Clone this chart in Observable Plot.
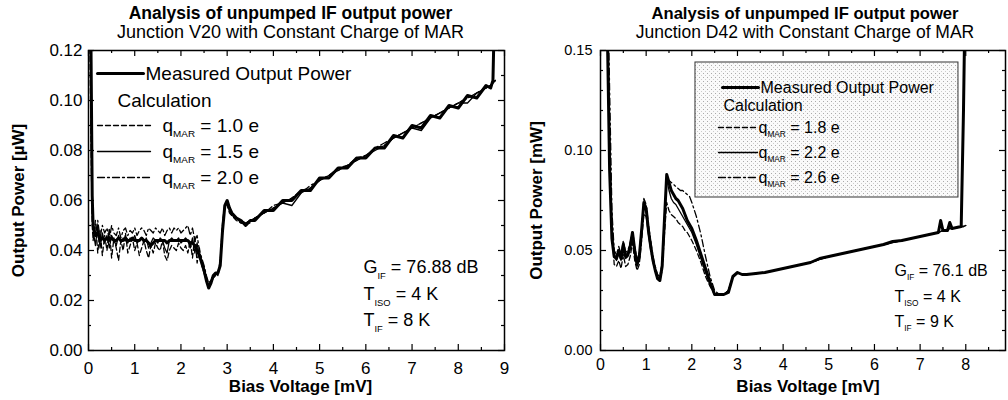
<!DOCTYPE html>
<html><head><meta charset="utf-8">
<script src="https://cdn.jsdelivr.net/npm/d3@7"></script>
<script src="https://cdn.jsdelivr.net/npm/@observablehq/plot@0.6"></script>
<style>
body{margin:0;background:#fff;}
#wrap{display:flex;width:1008px;height:400px;overflow:hidden;background:#fff;}
#wrap svg{display:block;flex:none;}
</style></head><body>
<svg width="0" height="0" style="position:absolute"><defs>
<pattern id="stipple" width="4" height="4" patternUnits="userSpaceOnUse">
<rect width="4" height="4" fill="#fafafa"/><rect x="1" y="1" width="1" height="1" fill="#aaaaaa"/><rect x="3" y="3" width="1" height="1" fill="#cccccc"/>
</pattern></defs></svg>
<div id="wrap"></div>
<script>
// ---------------- LEFT PANEL DATA (Junction V20) ----------------
const leftTitle = "Analysis of unpumped IF output power";
const leftSubtitle = "Junction V20 with Constant Charge of MAR";
const leftYLabel = "Output Power [µW]";
const leftXLabel = "Bias Voltage [mV]";
const leftSeriesNames = ["Measured Output Power", "q_{MAR} = 1.0 e", "q_{MAR} = 1.5 e", "q_{MAR} = 2.0 e"];
const leftNotes = ["G_{IF} = 76.88 dB", "T_{ISO} = 4 K", "T_{IF} = 8 K"];
const leftXTicks = [0, 1, 2, 3, 4, 5, 6, 7, 8, 9];
const leftXMinor = [0.5, 1.5, 2.5, 3.5, 4.5, 5.5, 6.5, 7.5, 8.5];
const leftYTicks = [0, 0.02, 0.04, 0.06, 0.08, 0.10, 0.12];
const leftYMinor = [0.01, 0.03, 0.05, 0.07, 0.09, 0.11];

const leftBias = [
 0.02,0.05,0.08,0.10,0.15,0.20,0.25,0.30,0.35,0.40,
 0.45,0.50,0.55,0.60,0.65,0.70,0.75,0.80,0.85,0.90,
 0.95,1.00,1.05,1.10,1.15,1.20,1.25,1.30,1.35,1.40,
 1.45,1.50,1.55,1.60,1.65,1.70,1.75,1.80,1.85,1.90,
 1.95,2.00,2.05,2.10,2.15,2.20,2.25,2.30,2.35,2.40,
 2.45,2.50,2.55,2.60,2.65,2.70,2.75,2.80,2.85,2.90,
 2.95,3.00,3.05,3.10,3.20,3.30,3.40,3.50,3.60,3.80,
 4.00,4.20,4.40,4.60,4.80,5.00,5.20,5.40,5.60,5.80,
 6.00,6.20,6.40,6.60,6.80,7.00,7.20,7.40,7.60,7.80,
 8.00,8.20,8.40,8.60,8.70,8.75,8.80];
const leftMeasured = [
 0.140,0.130,0.062,0.050,0.046,0.047,0.044,0.045,0.044,0.045,
 0.044,0.045,0.044,0.044,0.045,0.044,0.044,0.045,0.044,0.044,
 0.045,0.044,0.044,0.044,0.045,0.044,0.044,0.043,0.042,0.043,
 0.044,0.044,0.044,0.044,0.044,0.043,0.044,0.044,0.044,0.044,
 0.044,0.044,0.044,0.044,0.044,0.043,0.043,0.042,0.040,0.038,
 0.035,0.032,0.028,0.025,0.027,0.030,0.031,0.031,0.034,0.048,
 0.058,0.060,0.057,0.055,0.053,0.052,0.050,0.052,0.052,0.056,
 0.056,0.060,0.060,0.064,0.064,0.069,0.069,0.073,0.073,0.077,
 0.077,0.081,0.081,0.086,0.085,0.090,0.089,0.094,0.093,0.098,
 0.097,0.102,0.101,0.106,0.105,0.108,0.150];
const leftQ10 = [
 0.140,0.090,0.050,0.044,0.052,0.039,0.048,0.038,0.046,0.040,
 0.049,0.037,0.045,0.041,0.036,0.044,0.040,0.047,0.039,0.042,
 0.045,0.040,0.043,0.038,0.041,0.044,0.040,0.037,0.042,0.039,
 0.043,0.041,0.040,0.044,0.038,0.036,0.040,0.042,0.041,0.040,
 0.043,0.041,0.040,0.042,0.039,0.044,0.037,0.046,0.035,0.041,
 0.034,0.031,0.028,0.026,0.027,0.029,0.030,0.031,0.036,0.051,
 0.059,0.058,0.055,0.054,0.052,0.051,0.051,0.052,0.053,0.055,
 0.058,0.059,0.061,0.064,0.065,0.068,0.070,0.073,0.074,0.077,
 0.078,0.081,0.082,0.085,0.087,0.089,0.091,0.093,0.095,0.097,
 0.099,0.101,0.103,0.105,0.106,0.107,0.108];
const leftQ15 = [
 0.140,0.110,0.055,0.048,0.042,0.050,0.041,0.047,0.043,0.046,
 0.041,0.046,0.044,0.042,0.046,0.043,0.045,0.044,0.043,0.045,
 0.044,0.046,0.043,0.044,0.045,0.043,0.045,0.041,0.043,0.045,
 0.044,0.043,0.045,0.044,0.041,0.039,0.044,0.045,0.044,0.044,
 0.045,0.043,0.044,0.045,0.044,0.041,0.045,0.039,0.043,0.037,
 0.036,0.033,0.029,0.026,0.028,0.030,0.031,0.030,0.035,0.050,
 0.058,0.059,0.056,0.054,0.053,0.051,0.051,0.052,0.053,0.055,
 0.057,0.059,0.058,0.063,0.065,0.068,0.070,0.072,0.074,0.076,
 0.078,0.080,0.082,0.085,0.087,0.089,0.088,0.093,0.095,0.097,
 0.099,0.099,0.103,0.105,0.106,0.107,0.108];
const leftQ20 = [
 0.140,0.120,0.058,0.051,0.046,0.052,0.045,0.050,0.047,0.049,
 0.044,0.050,0.047,0.046,0.049,0.045,0.048,0.049,0.046,0.048,
 0.047,0.049,0.046,0.048,0.049,0.048,0.046,0.049,0.048,0.047,
 0.049,0.048,0.047,0.049,0.046,0.048,0.049,0.047,0.049,0.048,
 0.049,0.047,0.048,0.049,0.050,0.046,0.049,0.044,0.046,0.040,
 0.037,0.034,0.030,0.027,0.028,0.030,0.031,0.031,0.035,0.049,
 0.058,0.060,0.056,0.055,0.053,0.052,0.051,0.051,0.053,0.055,
 0.057,0.059,0.061,0.063,0.066,0.068,0.070,0.072,0.074,0.076,
 0.078,0.081,0.083,0.085,0.087,0.089,0.091,0.093,0.095,0.097,
 0.099,0.101,0.103,0.105,0.106,0.107,0.108];

// ---------------- RIGHT PANEL DATA (Junction D42) ----------------
const rightTitle = "Analysis of unpumped IF output power";
const rightSubtitle = "Junction D42 with Constant Charge of MAR";
const rightYLabel = "Output Power [mW]";
const rightXLabel = "Bias Voltage [mV]";
const rightSeriesNames = ["Measured Output Power", "q_{MAR} = 1.8 e", "q_{MAR} = 2.2 e", "q_{MAR} = 2.6 e"];
const rightNotes = ["G_{IF} = 76.1 dB", "T_{ISO} = 4 K", "T_{IF} = 9 K"];
const rightXTicks = [0, 1, 2, 3, 4, 5, 6, 7, 8];
const rightXMinor = [0.5, 1.5, 2.5, 3.5, 4.5, 5.5, 6.5, 7.5, 8.5];
const rightYTicks = [0, 0.05, 0.10, 0.15];
const rightYMinor = [0.01,0.02,0.03,0.04,0.06,0.07,0.08,0.09,0.11,0.12,0.13,0.14];

const rightBias = [
 0.05,0.10,0.15,0.20,0.25,0.30,0.35,0.40,0.45,0.50,
 0.55,0.60,0.65,0.70,0.75,0.80,0.85,0.90,0.95,1.00,
 1.05,1.10,1.15,1.20,1.25,1.30,1.35,1.40,1.45,1.50,
 1.55,1.60,1.65,1.70,1.75,1.80,1.85,1.90,1.95,2.00,
 2.10,2.20,2.30,2.40,2.50,2.60,2.70,2.80,2.90,3.00,
 3.10,3.20,3.40,3.60,3.80,4.00,4.20,4.40,4.60,4.80,
 5.00,5.20,5.40,5.60,5.80,6.00,6.20,6.40,6.60,6.80,
 7.00,7.20,7.40,7.45,7.50,7.60,7.65,7.70,7.80,7.90,
 7.95,8.00];
const rightMeasured = [
 0.200,0.200,0.160,0.090,0.056,0.047,0.046,0.050,0.046,0.053,
 0.047,0.048,0.052,0.059,0.050,0.043,0.047,0.060,0.074,0.071,
 0.060,0.052,0.045,0.040,0.036,0.035,0.042,0.065,0.088,0.084,
 0.080,0.078,0.076,0.075,0.073,0.071,0.068,0.065,0.063,0.061,
 0.055,0.048,0.041,0.034,0.028,0.028,0.028,0.029,0.037,0.039,
 0.038,0.038,0.0385,0.039,0.040,0.041,0.042,0.043,0.044,0.046,
 0.047,0.048,0.049,0.050,0.051,0.052,0.053,0.0545,0.055,0.056,
 0.057,0.058,0.059,0.065,0.060,0.060,0.064,0.061,0.0615,0.062,
 0.120,0.200];
const rightQ18 = [
 0.200,0.200,0.180,0.110,0.060,0.043,0.042,0.045,0.041,0.048,
 0.042,0.043,0.047,0.054,0.045,0.040,0.043,0.055,0.068,0.067,
 0.058,0.050,0.044,0.040,0.036,0.035,0.040,0.058,0.074,0.070,
 0.068,0.067,0.066,0.064,0.063,0.062,0.060,0.059,0.057,0.055,
 0.050,0.044,0.037,0.032,0.028,0.028,0.028,0.030,0.037,0.039,
 0.038,0.038,0.0385,0.039,0.040,0.041,0.042,0.043,0.044,0.0455,
 0.047,0.048,0.049,0.050,0.051,0.052,0.053,0.054,0.055,0.056,
 0.057,0.058,0.059,0.0595,0.060,0.0605,0.061,0.061,0.0615,0.062,
 0.062,0.0625];
const rightQ22 = [
 0.200,0.200,0.170,0.100,0.060,0.048,0.045,0.049,0.045,0.052,
 0.046,0.047,0.051,0.058,0.049,0.042,0.046,0.059,0.073,0.070,
 0.061,0.053,0.046,0.041,0.037,0.036,0.043,0.064,0.086,0.080,
 0.076,0.074,0.073,0.071,0.069,0.067,0.065,0.063,0.061,0.059,
 0.053,0.046,0.039,0.033,0.028,0.028,0.028,0.030,0.037,0.039,
 0.038,0.038,0.0385,0.039,0.040,0.041,0.042,0.043,0.044,0.0455,
 0.047,0.048,0.049,0.050,0.051,0.052,0.053,0.054,0.055,0.056,
 0.057,0.058,0.059,0.0595,0.060,0.0605,0.061,0.061,0.0615,0.062,
 0.062,0.0625];
const rightQ26 = [
 0.200,0.200,0.190,0.130,0.070,0.050,0.048,0.052,0.048,0.055,
 0.049,0.050,0.054,0.060,0.052,0.045,0.049,0.061,0.076,0.073,
 0.063,0.055,0.047,0.042,0.038,0.037,0.044,0.066,0.086,0.085,
 0.084,0.083,0.082,0.081,0.080,0.080,0.079,0.078,0.077,0.074,
 0.067,0.058,0.047,0.037,0.030,0.028,0.028,0.030,0.037,0.039,
 0.038,0.038,0.0385,0.039,0.040,0.041,0.042,0.043,0.044,0.0455,
 0.047,0.048,0.049,0.050,0.051,0.052,0.053,0.054,0.055,0.056,
 0.057,0.058,0.059,0.0595,0.060,0.0605,0.061,0.061,0.0615,0.062,
 0.062,0.0625];

// ---------------- LAYOUT / STYLE ----------------
const FONT = "'Liberation Sans', Arial, Helvetica, sans-serif";
const lineStyles = {
  measured: {stroke: "black", strokeWidth: 3},
  dashed: {stroke: "black", strokeWidth: 1.3, strokeDasharray: "5,3"},
  solid: {stroke: "black", strokeWidth: 1.3},
  dashdot: {stroke: "black", strokeWidth: 1.3, strokeDasharray: "7,3,2,3"}
};
const calcStyleOrder = ["dashed", "solid", "dashdot"];
const segmentShape = {draw(context, l) { context.moveTo(0, 0); context.lineTo(0, -l); }};
const PLOT_H = 300;

const leftLayout = {
  width: 506, marginLeft: 88, marginRight: 2, xDomain: [0, 9], yDomain: [0, 0.12],
  titleDx: -6, titleSize: 17.5, subtitleSize: 18,
  xTickFont: 17, yTickFont: 17, xPad: 11, yPad: 6,
  yLabelDx: -70, xLabelDx: 4, labelSize: 17,
  legendFont: 19, noteFont: 18,
  legend: [
    {dx: 57, dy: 23, style: "measured", lineDx: 9, lineLen: 46},
    {dx: 29, dy: 50},
    {dx: 74, dy: 75, style: "dashed", lineDx: 9, lineLen: 53},
    {dx: 74, dy: 101, style: "solid", lineDx: 9, lineLen: 53},
    {dx: 74, dy: 127, style: "dashdot", lineDx: 9, lineLen: 53}
  ],
  notes: {dx: 275, dy: [217, 244, 270]},
  box: null
};
const rightLayout = {
  width: 502, marginLeft: 94, marginRight: 3, xDomain: [0, 8.87], yDomain: [0, 0.15],
  titleDx: 2, titleSize: 16.6, subtitleSize: 17.5,
  xTickFont: 16, yTickFont: 14.5, xPad: 8, yPad: 8,
  yLabelDx: -64, xLabelDx: 5, labelSize: 17,
  legendFont: 16, noteFont: 16,
  legend: [
    {dx: 160, dy: 37, style: "measured", lineDx: 122, lineLen: 36},
    {dx: 123, dy: 55},
    {dx: 158, dy: 77, style: "dashed", lineDx: 118, lineLen: 39},
    {dx: 158, dy: 102, style: "solid", lineDx: 118, lineLen: 39},
    {dx: 158, dy: 127, style: "dashdot", lineDx: 118, lineLen: 39}
  ],
  notes: {dx: 294, dy: [220, 246, 271]},
  box: {x1: 2.08, x2: 7.84, y1: 0.0765, y2: 0.144}
};

function buildPanel(cfg) {
  const L = cfg.layout;
  const W = L.width - L.marginLeft - L.marginRight;
  const rows = cfg.x.map((x, i) => ({x, meas: cfg.measured[i], c0: cfg.calc[0][i], c1: cfg.calc[1][i], c2: cfg.calc[2][i]}));
  const T = d => d;
  const marks = [];
  if (L.box) marks.push(Plot.rect([L.box], {x1: "x1", x2: "x2", y1: "y1", y2: "y2", fill: "url(#stipple)", stroke: "#333", strokeWidth: 1}));
  calcStyleOrder.forEach((s, k) => marks.push(Plot.line(rows, {x: "x", y: "c" + k, clip: true, strokeLinejoin: "round", ...lineStyles[s]})));
  marks.push(Plot.line(rows, {x: "x", y: "meas", clip: true, strokeLinejoin: "round", ...lineStyles.measured}));
  // tick labels (outside)
  marks.push(
    Plot.axisX(cfg.xTicks, {anchor: "bottom", tickSize: 0, tickPadding: L.xPad, fontSize: L.xTickFont, label: null, tickFormat: d3.format("d")}),
    Plot.axisY(cfg.yTicks, {anchor: "left", tickSize: 0, tickPadding: L.yPad, fontSize: L.yTickFont, label: null, tickFormat: d3.format(".2f")})
  );
  // inward ticks on all four sides
  const tk = {stroke: "black", strokeWidth: 1.2};
  marks.push(
    Plot.tickX(cfg.xTicks, {x: T, insetTop: PLOT_H - 6, ...tk}),
    Plot.tickX(cfg.xMinor, {x: T, insetTop: PLOT_H - 3, ...tk}),
    Plot.tickX(cfg.xTicks, {x: T, insetBottom: PLOT_H - 6, ...tk}),
    Plot.tickX(cfg.xMinor, {x: T, insetBottom: PLOT_H - 3, ...tk}),
    Plot.tickY(cfg.yTicks, {y: T, insetRight: W - 6, ...tk}),
    Plot.tickY(cfg.yMinor, {y: T, insetRight: W - 3, ...tk}),
    Plot.tickY(cfg.yTicks, {y: T, insetLeft: W - 6, ...tk}),
    Plot.tickY(cfg.yMinor, {y: T, insetLeft: W - 3, ...tk}),
    Plot.frame({stroke: "black", strokeWidth: 1.5})
  );
  const mid = {lineAnchor: "middle"};
  marks.push(
    Plot.text([cfg.title], {text: T, frameAnchor: "top", ...mid, textAnchor: "middle", dx: L.titleDx, dy: -37, fontWeight: "bold", fontSize: L.titleSize}),
    Plot.text([cfg.subtitle], {text: T, frameAnchor: "top", ...mid, textAnchor: "middle", dx: L.titleDx, dy: -18, fontSize: L.subtitleSize}),
    Plot.text([cfg.yLabel], {text: T, frameAnchor: "left", ...mid, textAnchor: "middle", dx: L.yLabelDx, rotate: -90, fontWeight: "bold", fontSize: L.labelSize}),
    Plot.text([cfg.xLabel], {text: T, frameAnchor: "bottom", ...mid, textAnchor: "middle", dx: L.xLabelDx, dy: 36, fontWeight: "bold", fontSize: L.labelSize})
  );
  const legendTexts = [cfg.names[0], "Calculation", cfg.names[1], cfg.names[2], cfg.names[3]];
  L.legend.forEach((e, i) => {
    if (e.style) marks.push(Plot.vector([0], {frameAnchor: "top-left", dx: e.lineDx, dy: e.dy, length: e.lineLen, rotate: 90, anchor: "start", shape: segmentShape, ...lineStyles[e.style]}));
    marks.push(Plot.text([legendTexts[i]], {text: T, frameAnchor: "top-left", ...mid, dx: e.dx, dy: e.dy, textAnchor: "start", fontSize: L.legendFont}));
  });
  cfg.notes.forEach((n, i) => {
    marks.push(Plot.text([n], {text: T, frameAnchor: "top-left", ...mid, dx: L.notes.dx, dy: L.notes.dy[i], textAnchor: "start", fontSize: L.noteFont}));
  });
  return Plot.plot({
    width: L.width, height: 400,
    marginLeft: L.marginLeft, marginRight: L.marginRight, marginTop: 50, marginBottom: 50,
    x: {domain: L.xDomain},
    y: {domain: L.yDomain},
    style: {fontFamily: FONT, fontSize: "17px", color: "black", background: "transparent", overflow: "visible"},
    marks
  });
}

function applySubscripts(svg) {
  const ns = "http://www.w3.org/2000/svg";
  svg.querySelectorAll("text").forEach(t => {
    const s = t.textContent;
    if (!s.includes("_{")) return;
    const fs = parseFloat(getComputedStyle(t).fontSize) || 16;
    const shift = 0.3 * fs;
    const parts = s.split(/(_\{[^}]*\})/).filter(p => p.length);
    t.textContent = "";
    let down = false;
    parts.forEach(p => {
      const ts = document.createElementNS(ns, "tspan");
      if (p.startsWith("_{")) {
        ts.textContent = p.slice(2, -1);
        ts.setAttribute("font-size", (0.52 * fs).toFixed(1));
        ts.setAttribute("dy", shift.toFixed(1));
        down = true;
      } else {
        ts.textContent = p;
        if (down) { ts.setAttribute("dy", (-shift).toFixed(1)); down = false; }
      }
      t.appendChild(ts);
    });
  });
}

const wrap = document.getElementById("wrap");
const left = buildPanel({
  layout: leftLayout, x: leftBias, measured: leftMeasured, calc: [leftQ10, leftQ15, leftQ20],
  names: leftSeriesNames, notes: leftNotes, title: leftTitle, subtitle: leftSubtitle,
  xLabel: leftXLabel, yLabel: leftYLabel,
  xTicks: leftXTicks, xMinor: leftXMinor, yTicks: leftYTicks, yMinor: leftYMinor
});
const right = buildPanel({
  layout: rightLayout, x: rightBias, measured: rightMeasured, calc: [rightQ18, rightQ22, rightQ26],
  names: rightSeriesNames, notes: rightNotes, title: rightTitle, subtitle: rightSubtitle,
  xLabel: rightXLabel, yLabel: rightYLabel,
  xTicks: rightXTicks, xMinor: rightXMinor, yTicks: rightYTicks, yMinor: rightYMinor
});
wrap.append(left, right);
left.style.position = "relative"; left.style.zIndex = "2";
applySubscripts(left);
applySubscripts(right);
</script>
</body></html>
